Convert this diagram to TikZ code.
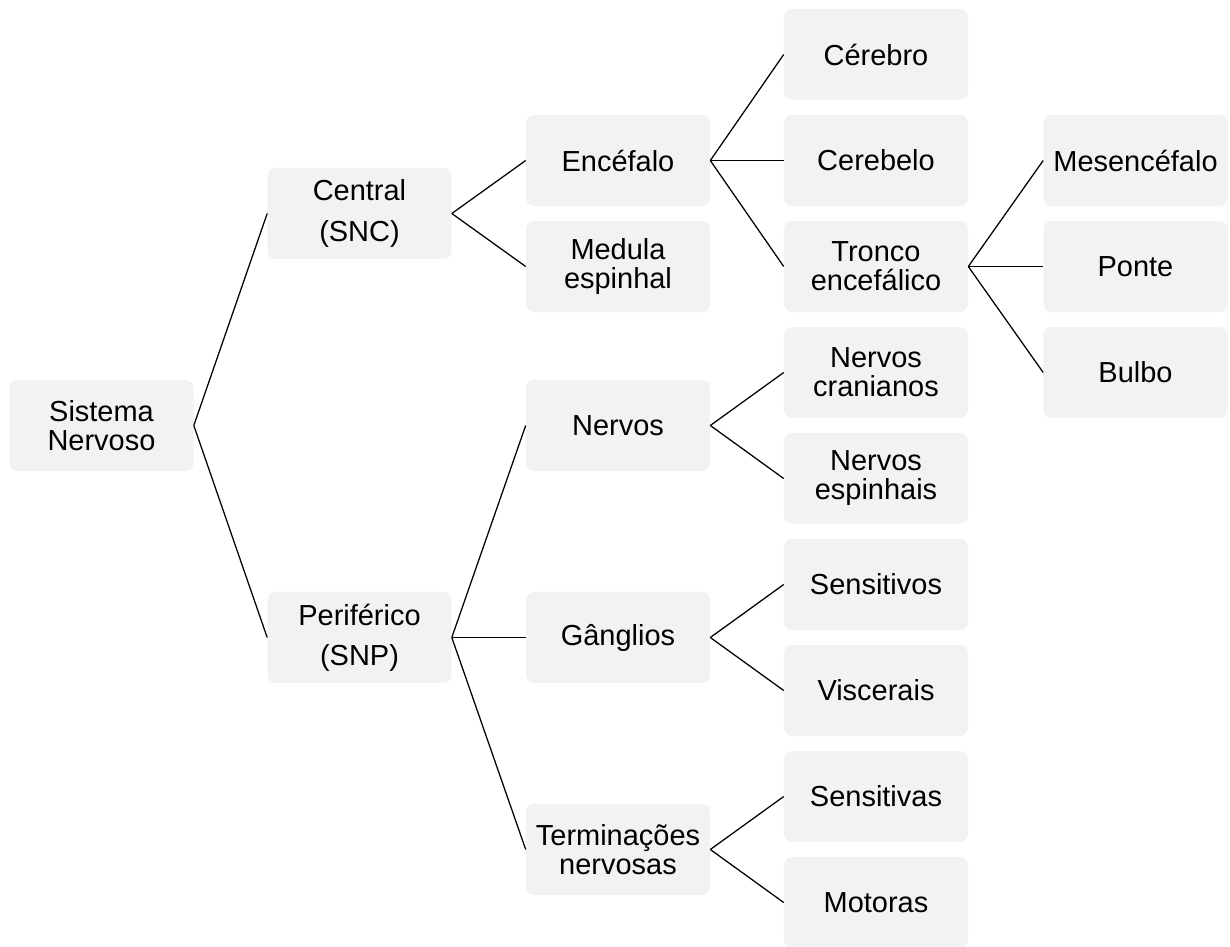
\documentclass[tikz,border=0pt]{standalone}
\usepackage{fontspec}
\setmainfont{Liberation Sans}
\definecolor{boxgray}{HTML}{F2F2F2}
\begin{document}
\begin{tikzpicture}[x=0.025cm,y=-0.025cm,
  box/.style={fill=boxgray, draw=none, rounded corners=0.2cm,
    minimum width=4.6cm, minimum height=2.275cm, inner sep=0pt, align=center,
    font=\fontsize{20.6}{20.6}\selectfont},
  widebox/.style={box, font=\fontsize{20.6}{28.5}\selectfont},
  link/.style={draw=black, line width=0.9pt}]
\useasboundingbox (0,0) rectangle (1230,947);

% level 0
\node[box] (sn) at (101.5,425.5) {Sistema\\Nervoso};
% level 1
\node[widebox] (snc) at (359.5,213.5) {Central\\(SNC)};
\node[widebox] (snp) at (359.5,637.5) {Periférico\\(SNP)};
% level 2
\node[box] (enc) at (618,160.5) {Encéfalo};
\node[box] (med) at (618,266.5) {Medula\\espinhal};
\node[box] (ner) at (618,425.5) {Nervos};
\node[box] (gan) at (618,637.5) {Gânglios};
\node[box] (ter) at (618,849.5) {Terminações\\nervosas};
% level 3
\node[box] (cer) at (876,54.5) {Cérebro};
\node[box] (cbl) at (876,160.5) {Cerebelo};
\node[box] (tro) at (876,266.5) {Tronco\\encefálico};
\node[box] (ncr) at (876,372.5) {Nervos\\cranianos};
\node[box] (nes) at (876,478.5) {Nervos\\espinhais};
\node[box] (sen) at (876,584.5) {Sensitivos};
\node[box] (vis) at (876,690.5) {Viscerais};
\node[box] (sea) at (876,796.5) {Sensitivas};
\node[box] (mot) at (876,902.5) {Motoras};
% level 4
\node[box] (mes) at (1135.5,160.5) {Mesencéfalo};
\node[box] (pon) at (1135.5,266.5) {Ponte};
\node[box] (bul) at (1135.5,372.5) {Bulbo};

% connectors
\foreach \a/\b in {sn/snc, sn/snp,
  snc/enc, snc/med,
  snp/ner, snp/gan, snp/ter,
  enc/cer, enc/cbl, enc/tro,
  ner/ncr, ner/nes,
  gan/sen, gan/vis,
  ter/sea, ter/mot,
  tro/mes, tro/pon, tro/bul}
  \draw[link] (\a.east) -- (\b.west);
\end{tikzpicture}
\end{document}
